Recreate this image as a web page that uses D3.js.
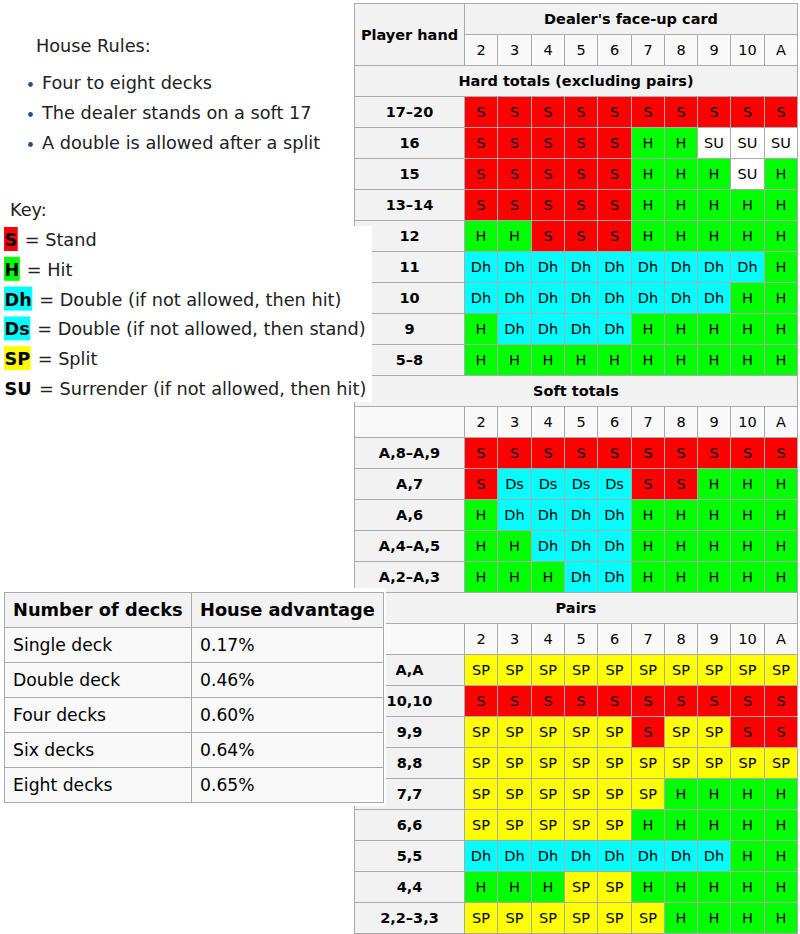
<!DOCTYPE html>
<html>
<head>
<meta charset="utf-8">
<script src="https://cdn.jsdelivr.net/npm/d3@7"></script>
<style>
  body { margin: 0; background: #fff; }
  text { font-family: "DejaVu Sans", sans-serif; fill: #202122; }
</style>
</head>
<body>
<div class="chart"></div>
<script>
var dealerCards = ['2', '3', '4', '5', '6', '7', '8', '9', '10', 'A']

var hardHands = ['17–20', '16', '15', '13–14', '12', '11', '10', '9', '5–8']
var hardMoves = [
  ['S', 'S', 'S', 'S', 'S', 'S', 'S', 'S', 'S', 'S'],
  ['S', 'S', 'S', 'S', 'S', 'H', 'H', 'SU', 'SU', 'SU'],
  ['S', 'S', 'S', 'S', 'S', 'H', 'H', 'H', 'SU', 'H'],
  ['S', 'S', 'S', 'S', 'S', 'H', 'H', 'H', 'H', 'H'],
  ['H', 'H', 'S', 'S', 'S', 'H', 'H', 'H', 'H', 'H'],
  ['Dh', 'Dh', 'Dh', 'Dh', 'Dh', 'Dh', 'Dh', 'Dh', 'Dh', 'H'],
  ['Dh', 'Dh', 'Dh', 'Dh', 'Dh', 'Dh', 'Dh', 'Dh', 'H', 'H'],
  ['H', 'Dh', 'Dh', 'Dh', 'Dh', 'H', 'H', 'H', 'H', 'H'],
  ['H', 'H', 'H', 'H', 'H', 'H', 'H', 'H', 'H', 'H']
]

var softHands = ['A,8–A,9', 'A,7', 'A,6', 'A,4–A,5', 'A,2–A,3']
var softMoves = [
  ['S', 'S', 'S', 'S', 'S', 'S', 'S', 'S', 'S', 'S'],
  ['S', 'Ds', 'Ds', 'Ds', 'Ds', 'S', 'S', 'H', 'H', 'H'],
  ['H', 'Dh', 'Dh', 'Dh', 'Dh', 'H', 'H', 'H', 'H', 'H'],
  ['H', 'H', 'Dh', 'Dh', 'Dh', 'H', 'H', 'H', 'H', 'H'],
  ['H', 'H', 'H', 'Dh', 'Dh', 'H', 'H', 'H', 'H', 'H']
]

var pairHands = ['A,A', '10,10', '9,9', '8,8', '7,7', '6,6', '5,5', '4,4', '2,2–3,3']
var pairMoves = [
  ['SP', 'SP', 'SP', 'SP', 'SP', 'SP', 'SP', 'SP', 'SP', 'SP'],
  ['S', 'S', 'S', 'S', 'S', 'S', 'S', 'S', 'S', 'S'],
  ['SP', 'SP', 'SP', 'SP', 'SP', 'S', 'SP', 'SP', 'S', 'S'],
  ['SP', 'SP', 'SP', 'SP', 'SP', 'SP', 'SP', 'SP', 'SP', 'SP'],
  ['SP', 'SP', 'SP', 'SP', 'SP', 'SP', 'H', 'H', 'H', 'H'],
  ['SP', 'SP', 'SP', 'SP', 'SP', 'H', 'H', 'H', 'H', 'H'],
  ['Dh', 'Dh', 'Dh', 'Dh', 'Dh', 'Dh', 'Dh', 'Dh', 'H', 'H'],
  ['H', 'H', 'H', 'SP', 'SP', 'H', 'H', 'H', 'H', 'H'],
  ['SP', 'SP', 'SP', 'SP', 'SP', 'SP', 'H', 'H', 'H', 'H']
]

var houseRules = ['Four to eight decks', 'The dealer stands on a soft 17', 'A double is allowed after a split']

var keyCodes = ['S', 'H', 'Dh', 'Ds', 'SP', 'SU']
var keyMeanings = ['Stand', 'Hit', 'Double (if not allowed, then hit)', 'Double (if not allowed, then stand)',
  'Split', 'Surrender (if not allowed, then hit)']

var deckHeaders = ['Number of decks', 'House advantage']
var deckCounts = ['Single deck', 'Double deck', 'Four decks', 'Six decks', 'Eight decks']
var houseEdge = [0.17, 0.46, 0.60, 0.64, 0.65]

var width = 800
var height = 934
var border = '#aaa'
var thBg = '#f2f2f2'
var tdBg = '#f9f9f9'
var sideFont = 17.7

var moveColor = d3.scaleOrdinal()
    .domain(keyCodes)
    .range(['#ff0000', '#00ff00', '#00ffff', '#00ffff', '#ffff00', '#ffffff'])

var svg = d3.select('.chart')
  .append('svg')
    .attr('width', width)
    .attr('height', height)

// ---- main strategy table ----
var sections = [
  { title: 'Hard totals (excluding pairs)', hands: hardHands, moves: hardMoves, numbers: false },
  { title: 'Soft totals', hands: softHands, moves: softMoves, numbers: true },
  { title: 'Pairs', hands: pairHands, moves: pairMoves, numbers: true }
]

var rows = [{ type: 'top' }, { type: 'numbers', first: true }]
sections.forEach(function(s) {
  rows.push({ type: 'section', title: s.title })
  if (s.numbers) rows.push({ type: 'numbers' })
  s.hands.forEach(function(h, i) { rows.push({ type: 'hand', hand: h, moves: s.moves[i] }) })
})

var tableLeft = 354, labelRight = 464, tableRight = 797
var y = d3.scaleBand().domain(d3.range(rows.length)).range([3, 933])
var x = d3.scaleBand().domain(dealerCards).range([labelRight, tableRight])

var main = svg.append('g').attr('class', 'main')

function cell(g, x0, x1, y0, y1, fill, label, bold) {
  x0 = Math.round(x0); x1 = Math.round(x1); y0 = Math.round(y0); y1 = Math.round(y1)
  g.append('rect')
      .attr('x', x0 + 0.5)
      .attr('y', y0 + 0.5)
      .attr('width', x1 - x0)
      .attr('height', y1 - y0)
      .attr('fill', fill)
      .attr('stroke', border)
  if (label) {
    g.append('text')
        .attr('x', (x0 + x1) / 2 + 0.5)
        .attr('y', (y0 + y1) / 2 + 0.5)
        .attr('dy', '0.36em')
        .attr('text-anchor', 'middle')
        .attr('font-size', 14.5)
        .attr('font-weight', bold ? 'bold' : 'normal')
        .style('fill', '#000')
        .text(label)
  }
}

rows.forEach(function(r, i) {
  var y0 = y(i), y1 = y(i) + y.bandwidth()
  if (r.type === 'top') {
    cell(main, tableLeft, labelRight, y0, y(i + 1) + y.bandwidth(), thBg, 'Player hand', true)
    cell(main, labelRight, tableRight, y0, y1, thBg, "Dealer's face-up card", true)
  } else if (r.type === 'numbers') {
    if (!r.first) cell(main, tableLeft, labelRight, y0, y1, tdBg, '', false)
    dealerCards.forEach(function(c) { cell(main, x(c), x(c) + x.bandwidth(), y0, y1, tdBg, c, false) })
  } else if (r.type === 'section') {
    cell(main, tableLeft, tableRight, y0, y1, thBg, r.title, true)
  } else {
    cell(main, tableLeft, labelRight, y0, y1, thBg, r.hand, true)
    dealerCards.forEach(function(c, j) {
      cell(main, x(c), x(c) + x.bandwidth(), y0, y1, moveColor(r.moves[j]), r.moves[j], false)
    })
  }
})

// ---- house rules ----
var rules = svg.append('g').attr('class', 'rules')
rules.append('text')
    .attr('x', 36)
    .attr('y', 52)
    .attr('font-size', sideFont)
    .text('House Rules:')

var ruleY = d3.scalePoint().domain(d3.range(houseRules.length)).range([89, 149])
rules.selectAll('circle')
  .data(houseRules)
  .join('circle')
    .attr('cx', 30.5)
    .attr('cy', function(d, i) { return ruleY(i) - 4.5 })
    .attr('r', 2.4)
    .attr('fill', '#2a4b8d')
rules.selectAll('text.item')
  .data(houseRules)
  .join('text')
    .attr('class', 'item')
    .attr('x', 42)
    .attr('y', function(d, i) { return ruleY(i) })
    .attr('font-size', sideFont)
    .text(function(d) { return d })

// ---- key ----
var key = svg.append('g').attr('class', 'key')
key.append('rect')
    .attr('x', 0)
    .attr('y', 226)
    .attr('width', 372)
    .attr('height', 176)
    .attr('fill', '#fff')
key.append('text')
    .attr('x', 10)
    .attr('y', 216)
    .attr('font-size', sideFont)
    .text('Key:')

var keyY = d3.scalePoint().domain(keyCodes).range([246, 395])
keyCodes.forEach(function(k, i) {
  var g = key.append('g')
  var rect = g.append('rect')
  var t = g.append('text')
      .attr('x', 4.5)
      .attr('y', keyY(k))
      .attr('font-size', sideFont)
      .attr('font-weight', 'bold')
      .style('fill', '#000')
      .text(k)
  var w = t.node().getComputedTextLength()
  rect.attr('x', 4)
      .attr('y', keyY(k) - 19)
      .attr('width', w + 1)
      .attr('height', 24)
      .attr('fill', moveColor(k))
  g.append('text')
      .attr('x', 4 + w + 8)
      .attr('y', keyY(k))
      .attr('font-size', sideFont)
      .text('= ' + keyMeanings[i])
})

// ---- house advantage table ----
var decks = svg.append('g').attr('class', 'decks')
decks.append('rect')
    .attr('x', 0)
    .attr('y', 588)
    .attr('width', 386)
    .attr('height', 218)
    .attr('fill', '#fff')

var deckRows = [deckHeaders].concat(deckCounts.map(function(d, i) {
  return [d, houseEdge[i].toFixed(2) + '%']
}))
var dy = d3.scaleBand().domain(d3.range(deckRows.length)).range([592, 802])
var dx = [4, 191, 383]

deckRows.forEach(function(r, i) {
  r.forEach(function(v, j) {
    decks.append('rect')
        .attr('x', dx[j] + 0.5)
        .attr('y', dy(i) + 0.5)
        .attr('width', dx[j + 1] - dx[j])
        .attr('height', dy.bandwidth())
        .attr('fill', i === 0 ? thBg : tdBg)
        .attr('stroke', border)
    decks.append('text')
        .attr('x', dx[j] + 9)
        .attr('y', dy(i) + dy.bandwidth() / 2 + 0.5)
        .attr('dy', '0.36em')
        .attr('font-size', i === 0 ? 17.8 : 17.2)
        .attr('font-weight', i === 0 ? 'bold' : 'normal')
        .style('fill', '#000')
        .text(v)
  })
})
</script>
</body>
</html>
